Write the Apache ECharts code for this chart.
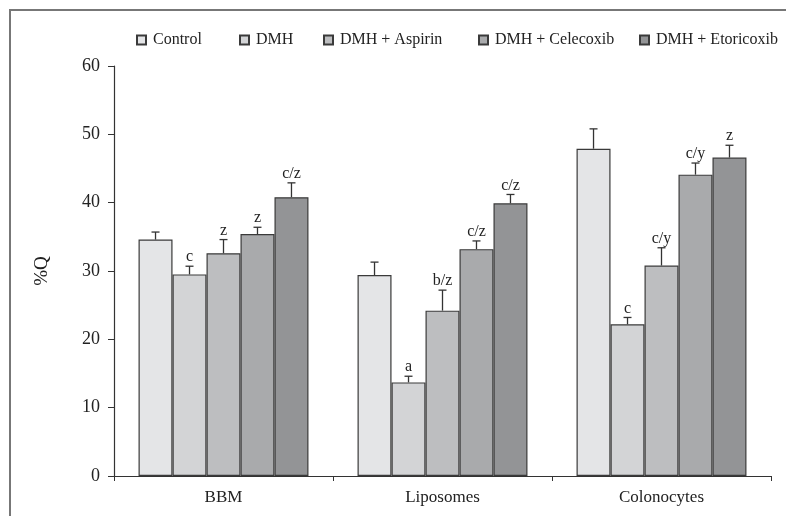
<!DOCTYPE html>
<html><head><meta charset="utf-8">
<script src="https://cdn.jsdelivr.net/npm/echarts@6/dist/echarts.min.js"></script>
<style>html,body{margin:0;padding:0;background:#fff}#c{width:786px;height:516px}</style>
</head><body><div id="c"></div>
<script>
const categories = ['BBM', 'Liposomes', 'Colonocytes'];
const seriesNames = ['Control', 'DMH', 'DMH + Aspirin', 'DMH + Celecoxib', 'DMH + Etoricoxib'];
const controlVals = [34.6, 29.4, 47.9];
const dmhVals = [29.5, 13.7, 22.2];
const aspirinVals = [32.6, 24.2, 30.8];
const celecoxibVals = [35.4, 33.2, 44.1];
const etoricoxibVals = [40.8, 39.9, 46.6];
const controlErr = [1.1, 1.9, 2.9];
const dmhErr = [1.2, 0.9, 1.0];
const aspirinErr = [2.0, 3.0, 2.6];
const celecoxibErr = [1.0, 1.2, 1.7];
const etoricoxibErr = [2.1, 1.3, 1.8];
const controlLbl = ['', '', ''];
const dmhLbl = ['c', 'a', 'c'];
const aspirinLbl = ['z', 'b/z', 'c/y'];
const celecoxibLbl = ['z', 'c/z', 'c/y'];
const etoricoxibLbl = ['c/z', 'c/z', 'z'];
const yTicks = [0, 10, 20, 30, 40, 50, 60];

const values = [controlVals, dmhVals, aspirinVals, celecoxibVals, etoricoxibVals];
const errs = [controlErr, dmhErr, aspirinErr, celecoxibErr, etoricoxibErr];
const lbls = [controlLbl, dmhLbl, aspirinLbl, celecoxibLbl, etoricoxibLbl];
const colors = ['#e4e5e7', '#d3d4d6', '#bdbec0', '#a9aaac', '#939496'];
const legendLefts = [131, 234, 318, 473, 634];
const FONT = '"Liberation Serif", "DejaVu Serif", serif';
const GAP = 0.224;

const chart = echarts.init(document.getElementById('c'));
const series = [];
seriesNames.forEach((name, i) => {
  series.push({
    name: name, type: 'bar', data: values[i], barGap: 0, barCategoryGap: (GAP * 100) + '%',
    itemStyle: { color: colors[i], borderColor: '#3a3a3a', borderWidth: 1.2 },
    animation: false
  });
});
seriesNames.forEach((name, i) => {
  series.push({
    type: 'custom', name: name + ' err', animation: false, silent: true,
    data: values[i].map((v, j) => [j, v, errs[i][j]]),
    renderItem: function (params, api) {
      const cat = api.value(0), v = api.value(1), e = api.value(2);
      const catW = api.size([1, 0])[0];
      const bw = catW * (1 - GAP) / 5;
      const c = api.coord([cat, v]);
      const top = api.coord([cat, v + e]);
      const x = c[0] + (i - 2) * bw;
      const children = [
        { type: 'line', shape: { x1: x, y1: c[1], x2: x, y2: top[1] }, style: { stroke: '#333', lineWidth: 1.3 } },
        { type: 'line', shape: { x1: x - 4, y1: top[1], x2: x + 4, y2: top[1] }, style: { stroke: '#333', lineWidth: 1.3 } }
      ];
      const t = lbls[i][cat];
      if (t) {
        children.push({ type: 'text', x: x, y: top[1] - 1, style: { text: t, fill: '#222', font: '16px ' + FONT, align: 'center', verticalAlign: 'bottom' } });
      }
      return { type: 'group', children: children };
    },
    z: 5
  });
});

const legends = seriesNames.map((name, i) => ({
  data: [name], top: 27, left: legendLefts[i], itemWidth: 9, itemHeight: 9, icon: 'rect',
  textStyle: { fontFamily: FONT, fontSize: 16, color: '#222', padding: [0, 0, 0, 2] }
}));

chart.setOption({
  backgroundColor: '#fff',
  textStyle: { fontFamily: FONT },
  legend: legends,
  grid: { left: 114, right: 15, top: 66, bottom: 40, containLabel: false },
  xAxis: {
    type: 'category', data: categories,
    axisLine: { lineStyle: { color: '#333', width: 1.2 } },
    axisTick: { show: true, length: 5, lineStyle: { color: '#333' } },
    axisLabel: { fontFamily: FONT, fontSize: 17, color: '#222', margin: 13 }
  },
  yAxis: {
    type: 'value', min: 0, max: 60, interval: 10,
    name: '%Q', nameLocation: 'middle', nameGap: 62, nameRotate: 90,
    nameTextStyle: { fontFamily: FONT, fontSize: 19, color: '#222' },
    axisLine: { show: true, lineStyle: { color: '#333', width: 1.2 } },
    axisTick: { show: true, length: 6, lineStyle: { color: '#333' } },
    axisLabel: { fontFamily: FONT, fontSize: 18, color: '#222', margin: 14, formatter: v => yTicks.includes(v) ? String(v) : '' },
    splitLine: { show: false }
  },
  graphic: [{ type: 'rect', shape: { x: 10, y: 10, width: 820, height: 600 }, style: { fill: 'none', stroke: '#777', lineWidth: 2 }, silent: true }],
  series: series
});
</script></body></html>
